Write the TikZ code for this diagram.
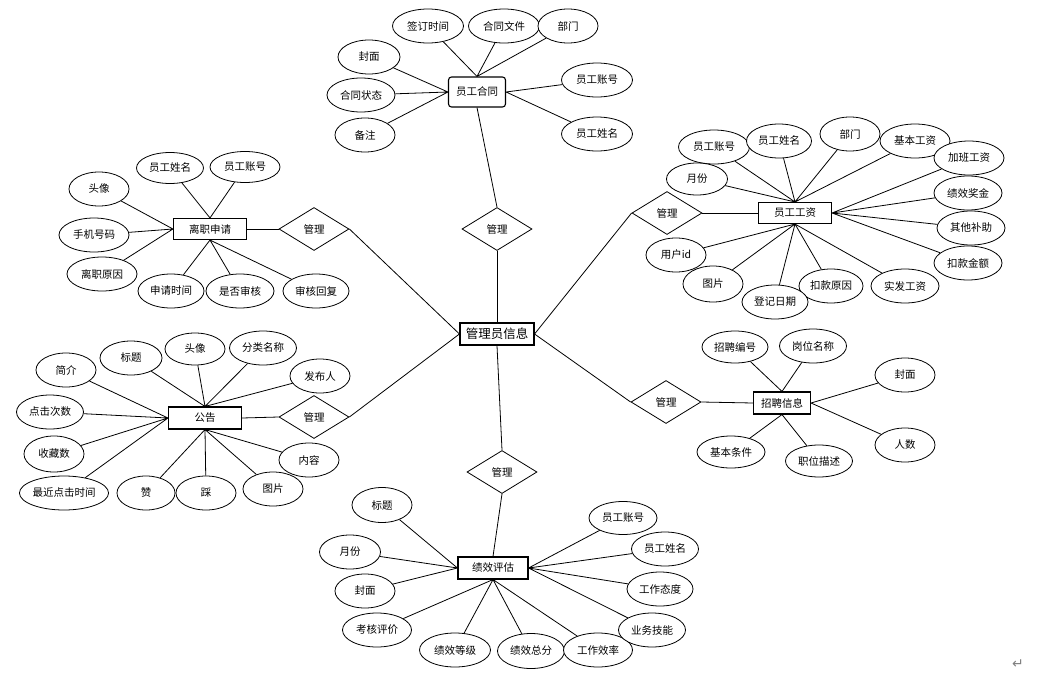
\documentclass[tikz,border=0pt]{standalone}
\usepackage{fontspec}
\setmainfont{Noto Sans CJK SC}
\newfontfamily\markfont{DejaVu Sans}
\usetikzlibrary{shapes.geometric}

\begin{document}
\begin{tikzpicture}[x=1pt, y=-1pt, line width=0.8pt,
  every node/.style={font=\fontsize{10.5pt}{12pt}\selectfont},
  attr/.style={draw, ellipse, fill=white, inner sep=0pt, minimum width=68pt, minimum height=34pt},
  sattr/.style={attr, minimum width=60pt},
  ent/.style={draw, line width=1.1pt, fill=white, inner sep=0pt, minimum width=73pt, minimum height=21pt},
  rel/.style={draw, diamond, aspect=1.6, inner sep=0pt, minimum width=70pt, minimum height=43pt}]
\useasboundingbox (0,0) rectangle (1037,683);

% centre
\node[ent, minimum width=74pt, minimum height=22pt, font=\fontsize{12.5pt}{14pt}\selectfont] (admin) at (497,334) {管理员信息};
\node[rel] (mgContract) at (497,229) {管理};
\node[rel] (mgPerf) at (502,472) {管理};
\node[rel] (mgResign) at (314,229) {管理};
\node[rel] (mgNotice) at (314,417) {管理};
\node[rel] (mgSalary) at (667,213) {管理};
\node[rel] (mgRecruit) at (666,402) {管理};

% 员工合同
\node[ent, rounded corners=3pt, minimum width=57pt, minimum height=30pt] (contract) at (477,92) {员工合同};
\node[attr, minimum width=71pt] (ctSign) at (428,26) {签订时间};
\node[attr, minimum width=71pt] (ctFile) at (504,26) {合同文件};
\node[sattr] (ctDept) at (568,26) {部门};
\node[sattr, minimum width=62pt] (ctCover) at (369,57) {封面};
\node[attr] (ctState) at (361,95) {合同状态};
\node[sattr] (ctNote) at (365,135) {备注};
\node[attr, minimum width=71pt] (ctNo) at (597,80) {员工账号};
\node[attr, minimum width=71pt] (ctName) at (597,134) {员工姓名};
\draw (ctSign) -- (contract.north) (ctFile) -- (contract.north) (ctDept) -- (contract.north);
\draw (ctCover) -- (contract.west) (ctState) -- (contract.west) (ctNote) -- (contract.west);
\draw (ctNo) -- (contract.east) (ctName) -- (contract.east);

% 员工工资
\node[ent] (salary) at (795,213) {员工工资};
\node[attr, minimum width=71pt] (sNo) at (714,147) {员工账号};
\node[attr, minimum width=65pt] (sName) at (779,141) {员工姓名};
\node[sattr] (sDept) at (850,134) {部门};
\node[attr, minimum width=70pt] (sBase) at (915,141) {基本工资};
\node[attr, minimum width=70pt] (sOver) at (969,158) {加班工资};
\node[attr] (sBonus) at (968,193) {绩效奖金};
\node[attr] (sAllow) at (971,228) {其他补助};
\node[attr] (sDeduct) at (968,263) {扣款金额};
\node[attr] (sNet) at (905,286) {实发工资};
\node[attr, minimum width=64pt] (sReason) at (831,286) {扣款原因};
\node[attr, minimum width=66pt] (sDate) at (775,302) {登记日期};
\node[sattr, minimum height=36pt] (sPic) at (713,284) {图片};
\node[sattr] (sUid) at (676,255) {用户id};
\node[sattr, minimum width=61pt, minimum height=32pt] (sMonth) at (697,179) {月份};
\draw (sMonth) -- (salary.north) (sNo) -- (salary.north) (sName) -- (salary.north)
      (sDept) -- (salary.north) (sBase) -- (salary.north);
\draw (sOver) -- (salary.east) (sBonus) -- (salary.east) (sAllow) -- (salary.east) (sDeduct) -- (salary.east);
\draw (sUid) -- (salary.south) (sPic) -- (salary.south) (sDate) -- (salary.south)
      (sReason) -- (salary.south) (sNet) -- (salary.south);

% 离职申请
\node[ent] (resign) at (210,229) {离职申请};
\node[attr, minimum width=67pt, minimum height=31pt] (rName) at (170,168) {员工姓名};
\node[attr, minimum width=70pt, minimum height=31pt] (rNo) at (245,167) {员工账号};
\node[sattr] (rHead) at (99,189) {头像};
\node[attr, minimum width=70pt] (rPhone) at (94,235) {手机号码};
\node[attr, minimum width=70pt] (rReason) at (102,274) {离职原因};
\node[attr, minimum width=66pt] (rTime) at (171,291) {申请时间};
\node[attr] (rCheck) at (240,291) {是否审核};
\node[attr, minimum width=66pt] (rReply) at (316,291) {审核回复};
\draw (rName) -- (resign.north) (rNo) -- (resign.north);
\draw (rHead) -- (resign.west) (rPhone) -- (resign.west) (rReason) -- (resign.west);
\draw (rTime) -- (resign.south) (rCheck) -- (resign.south) (rReply) -- (resign.south);

% 公告
\node[ent, minimum height=22pt] (notice) at (205,418) {公告};
\node[sattr] (nIntro) at (66,370) {简介};
\node[sattr, minimum width=62pt] (nTitle) at (131,358) {标题};
\node[sattr, minimum height=32pt] (nHead) at (195,349) {头像};
\node[attr, minimum width=67pt] (nCat) at (263,348) {分类名称};
\node[sattr] (nPub) at (320,376) {发布人};
\node[attr, minimum width=67pt] (nClick) at (50,412) {点击次数};
\node[sattr, minimum height=36pt] (nFav) at (54,454) {收藏数};
\node[attr, minimum width=80pt] (nLast) at (64,493) {最近点击时间};
\node[sattr, minimum width=58pt] (nLike) at (146,493) {赞};
\node[sattr] (nDis) at (206,493) {踩};
\node[sattr] (nPic) at (273,489) {图片};
\node[sattr] (nText) at (309,460) {内容};
\draw (nTitle) -- (notice.north) (nHead) -- (notice.north) (nCat) -- (notice.north) (nPub) -- (notice.north);
\draw (nIntro) -- (notice.west) (nClick) -- (notice.west) (nFav) -- (notice.west) (nLast) -- (notice.west);
\draw (nLike) -- (notice.south) (nDis) -- (notice.south) (nPic) -- (notice.south) (nText) -- (notice.south);

% 招聘信息
\node[ent, minimum width=57pt, minimum height=22pt] (recruit) at (782,403) {招聘信息};
\node[attr, minimum width=66pt, minimum height=32pt] (jNo) at (735,347) {招聘编号};
\node[attr, minimum width=67pt] (jPos) at (813,346) {岗位名称};
\node[sattr] (jCover) at (905,375) {封面};
\node[sattr] (jNum) at (905,445) {人数};
\node[attr, minimum height=32pt] (jCond) at (731,452) {基本条件};
\node[attr, minimum width=67pt, minimum height=32pt] (jDesc) at (819,461) {职位描述};
\draw (jNo) -- (recruit.north) (jPos) -- (recruit.north);
\draw (jCover) -- (recruit.east) (jNum) -- (recruit.east);
\draw (jCond) -- (recruit.south) (jDesc) -- (recruit.south);

% 绩效评估
\node[ent, minimum width=70pt, minimum height=22pt] (perf) at (493,568) {绩效评估};
\node[sattr, minimum height=35pt] (pTitle) at (382,505) {标题};
\node[sattr, minimum width=61pt] (pMonth) at (350,552) {月份};
\node[sattr] (pCover) at (365,591) {封面};
\node[attr, minimum width=69pt] (pEval) at (377,630) {考核评价};
\node[attr, minimum width=71pt] (pGrade) at (455,650) {绩效等级};
\node[attr, minimum width=67pt, minimum height=35pt] (pScore) at (531,651) {绩效总分};
\node[attr, minimum width=69pt] (pEff) at (598,650) {工作效率};
\node[attr, minimum width=67pt] (pSkill) at (652,630) {业务技能};
\node[attr, minimum width=66pt] (pAtt) at (660,589) {工作态度};
\node[attr, minimum width=67pt] (pName) at (665,549) {员工姓名};
\node[attr, minimum width=68pt, minimum height=33pt] (pNo) at (623,518) {员工账号};
\draw (pTitle) -- (perf.west) (pMonth) -- (perf.west) (pCover) -- (perf.west);
\draw (pEval) -- (perf.south) (pGrade) -- (perf.south) (pScore) -- (perf.south) (pEff) -- (perf.south);
\draw (pSkill) -- (perf.east) (pAtt) -- (perf.east) (pName) -- (perf.east) (pNo) -- (perf.east);

% relations
\draw (contract.south) -- (mgContract.north);
\draw (mgContract.south) -- (admin.north);
\draw (admin.south) -- (mgPerf.north);
\draw (mgPerf.south) -- (perf.north);
\draw (resign.east) -- (mgResign.west);
\draw (mgResign.east) -- (admin.west);
\draw (notice.east) -- (mgNotice.west);
\draw (mgNotice.east) -- (admin.west);
\draw (salary.west) -- (mgSalary.east);
\draw (mgSalary.west) -- (admin.east);
\draw (recruit.west) -- (mgRecruit.east);
\draw (mgRecruit.west) -- (admin.east);

\node[text=gray, font=\markfont\fontsize{14pt}{15pt}\selectfont] (mark) at (1018,664) {↵};
\end{tikzpicture}
\end{document}
